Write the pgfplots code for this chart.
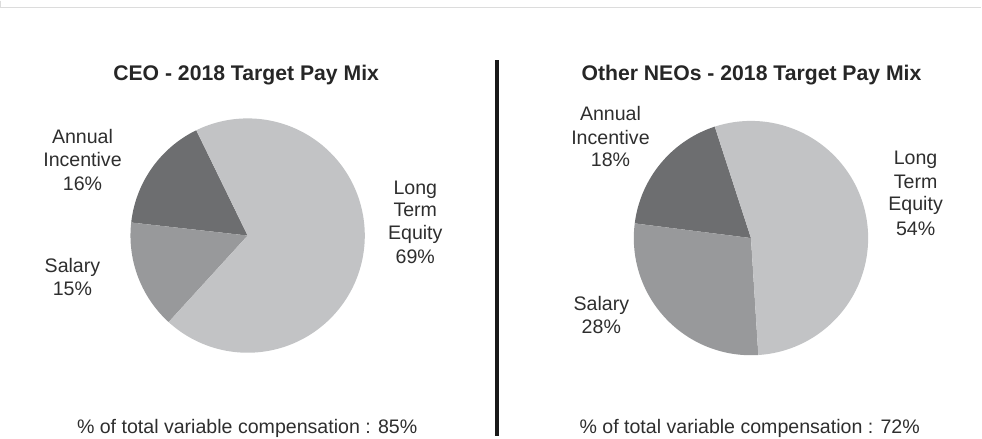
\documentclass[border=0pt]{standalone}
\usepackage{pgfplots}
\pgfplotsset{compat=1.18}
\usepackage{fontspec}
\setmainfont{Liberation Sans}
\definecolor{cLTE}{HTML}{C2C3C5}
\definecolor{cAI}{HTML}{6D6E70}
\definecolor{cSal}{HTML}{98999B}
\definecolor{cTxt}{HTML}{2E2E2E}
\definecolor{cFrame}{HTML}{DCDCDC}
\newcommand{\bodyfont}{\fontsize{14.6}{17.5}\selectfont}
\newcommand{\titlefont}{\fontsize{15.8}{19}\selectfont\bfseries}
\newcommand{\lbl}[3]{\node[anchor=base, font=\bodyfont, text=cTxt, inner sep=0pt] at (axis cs:#1,{483-#2}) {#3};}
\begin{document}
\begin{tikzpicture}
\begin{axis}[
  scale only axis, width=736.5pt, height=362.25pt,
  xmin=0, xmax=982, ymin=0, ymax=483,
  axis lines=none, ticks=none, clip=false,
]
% frame
\draw[cFrame, line width=1.1pt] (axis cs:7,483) -- (axis cs:7,476.5) -- (axis cs:982,476.5);
% separator
\draw[black!90, line width=3pt] (axis cs:500.7,424) -- (axis cs:500.7,50);

% ---- CEO pie: Annual Incentive 16, Salary 15, Long Term Equity 69 (start angle 116)
\addplot[fill=cAI, draw=none, domain=116:116+3.6*16, samples=60]
  ({252.5+116.5*cos(x)},{249.5+116.5*sin(x)}) -- (axis cs:252.5,249.5) -- cycle;
\addplot[fill=cSal, draw=none, domain=116+3.6*16:116+3.6*(16+15), samples=60]
  ({252.5+116.5*cos(x)},{249.5+116.5*sin(x)}) -- (axis cs:252.5,249.5) -- cycle;
\addplot[fill=cLTE, draw=none, domain=116+3.6*(16+15):116+3.6*(16+15+69), samples=200]
  ({252.5+116.5*cos(x)},{249.5+116.5*sin(x)}) -- (axis cs:252.5,249.5) -- cycle;

% ---- Other NEOs pie: Annual Incentive 18, Salary 28, Long Term Equity 54 (start angle 108)
\addplot[fill=cAI, draw=none, domain=108:108+3.6*18, samples=60]
  ({753+116.5*cos(x)},{247+116.5*sin(x)}) -- (axis cs:753,247) -- cycle;
\addplot[fill=cSal, draw=none, domain=108+3.6*18:108+3.6*(18+28), samples=80]
  ({753+116.5*cos(x)},{247+116.5*sin(x)}) -- (axis cs:753,247) -- cycle;
\addplot[fill=cLTE, draw=none, domain=108+3.6*(18+28):108+3.6*(18+28+54), samples=160]
  ({753+116.5*cos(x)},{247+116.5*sin(x)}) -- (axis cs:753,247) -- cycle;

% titles
\node[anchor=base, font=\titlefont, text=black!85, inner sep=0pt] at (axis cs:251,{483-79}) {CEO - 2018 Target Pay Mix};
\node[anchor=base, font=\titlefont, text=black!85, inner sep=0pt] at (axis cs:753.5,{483-79}) {Other NEOs - 2018 Target Pay Mix};

% CEO labels
\lbl{88.3}{141.7}{Annual}
\lbl{88.3}{165}{Incentive}
\lbl{88.3}{188.3}{16\%}
\lbl{78.3}{270}{Salary}
\lbl{78.3}{292.7}{15\%}
\lbl{419.2}{192.3}{Long}
\lbl{419.2}{215}{Term}
\lbl{419.2}{237.5}{Equity}
\lbl{419.2}{261.7}{69\%}
\lbl{252}{430.5}{\% of total variable compensation : 85\%}

% NEO labels
\lbl{613.3}{119.3}{Annual}
\lbl{613.3}{142.7}{Incentive}
\lbl{613.3}{165.3}{18\%}
\lbl{604.2}{308.3}{Salary}
\lbl{604.2}{330.7}{28\%}
\lbl{916.7}{163.3}{Long}
\lbl{916.7}{186.7}{Term}
\lbl{916.7}{208.5}{Equity}
\lbl{916.7}{233.3}{54\%}
\lbl{751.7}{430.7}{\% of total variable compensation : 72\%}
\end{axis}
\end{tikzpicture}
\end{document}
